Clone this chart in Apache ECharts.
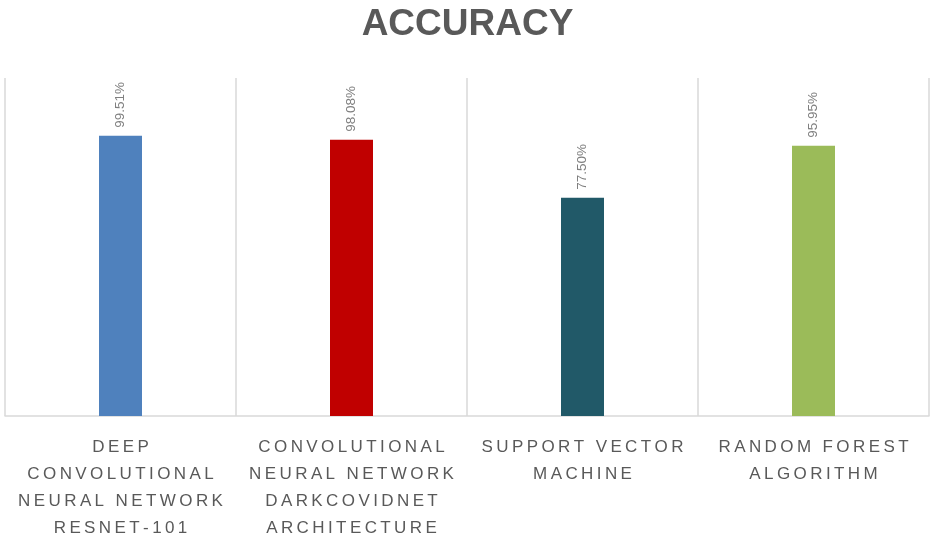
<!DOCTYPE html>
<html>
<head>
<meta charset="utf-8">
<script src="https://cdn.jsdelivr.net/npm/echarts@6/dist/echarts.min.js"></script>
<style>html,body{margin:0;padding:0;background:#fff}#c{width:935px;height:542px}</style>
</head>
<body>
<div id="c"></div>
<script>
var categories = [
  "DEEP\nCONVOLUTIONAL\nNEURAL NETWORK\nRESNET-101",
  "CONVOLUTIONAL\nNEURAL NETWORK\nDARKCOVIDNET\nARCHITECTURE",
  "SUPPORT VECTOR\nMACHINE",
  "RANDOM FOREST\nALGORITHM"
];
var accuracy = [99.51, 98.08, 77.50, 95.95];
var valueLabels = ["99.51%", "98.08%", "77.50%", "95.95%"];
var barColors = ["#4F81BD", "#C00000", "#215968", "#9BBB59"];

function spaced(s) {
  return s.split("\n").map(function (line) {
    return line.split("").join("\u2009");
  }).join("\n");
}

var chart = echarts.init(document.getElementById("c"));
chart.setOption({
  animation: false,
  title: {
    text: "ACCURACY",
    left: "center",
    top: 1,
    textStyle: { fontFamily: "Liberation Sans", fontWeight: "bold", fontSize: 37, color: "#595959" }
  },
  grid: { left: 5, right: 6, top: 78, bottom: 114, containLabel: false },
  xAxis: {
    type: "category",
    data: categories,
    axisLine: { show: true, lineStyle: { color: "#D9D9D9", width: 1.5 } },
    axisTick: { show: false },
    splitLine: { show: true, lineStyle: { color: "#D9D9D9", width: 1.5 } },
    axisLabel: {
      interval: 0,
      margin: 18,
      formatter: function (v) { return spaced(v); },
      fontFamily: "Liberation Sans",
      fontSize: 17,
      lineHeight: 27,
      color: "#595959"
    }
  },
  yAxis: {
    type: "value",
    min: 0,
    max: 120,
    show: false,
    splitLine: { show: false }
  },
  series: [{
    type: "bar",
    barWidth: 43,
    data: accuracy.map(function (v, i) {
      return { value: v, itemStyle: { color: barColors[i] } };
    }),
    label: {
      show: true,
      position: "top",
      rotate: 90,
      align: "left",
      verticalAlign: "middle",
      distance: 8,
      formatter: function (p) { return valueLabels[p.dataIndex]; },
      fontFamily: "Liberation Sans",
      fontSize: 13.5,
      color: "#7F7F7F"
    }
  }]
});
</script>
</body>
</html>
